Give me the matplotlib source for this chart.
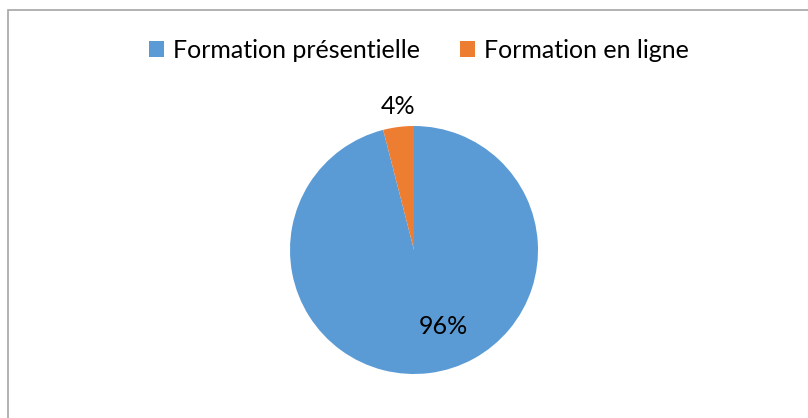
import matplotlib.pyplot as plt
from matplotlib.patches import Patch, Rectangle

# données du graphique
categories = ['Formation présentielle', 'Formation en ligne']
parts = [96, 4]
couleurs = ['#5B9BD5', '#ED7D31']

plt.rcParams['font.family'] = ['Lato', 'DejaVu Sans']

W, H = 808, 418
fig = plt.figure(figsize=(W / 100, H / 100), dpi=100)

# cadre gris du graphique
fig.patches.append(Rectangle((8 / W, -0.05), 1.0, 1 - 10 / H + 0.05,
                             transform=fig.transFigure, fill=False,
                             edgecolor='#a6a6a6', linewidth=1.2))

# axe en pixels, origine en haut à gauche (axe y inversé,
# donc départ à -90° et sens trigo pour tourner en sens horaire à l'écran)
ax = fig.add_axes([0, 0, 1, 1])
wedges, textes, pcts = ax.pie(parts, colors=couleurs, startangle=-90,
                              counterclock=True, center=(414, 250),
                              radius=124, autopct='%1.0f%%',
                              pctdistance=0.66, frame=True,
                              textprops={'fontsize': 18, 'color': 'black'})
ax.set_xlim(0, W)
ax.set_ylim(H, 0)
ax.set_aspect('equal')
ax.axis('off')

# position des étiquettes
pcts[0].set_position((443, 327))
pcts[1].set_position((398, 107))

fig.legend(handles=[Patch(facecolor=c, edgecolor='none') for c in couleurs],
           labels=categories, loc='center', bbox_to_anchor=(419 / W, 1 - 50 / H),
           ncol=2, frameon=False, fontsize=18, handlelength=0.6,
           handleheight=0.6, handletextpad=0.35, columnspacing=1.6)

fig.savefig('out.png', dpi=100)
